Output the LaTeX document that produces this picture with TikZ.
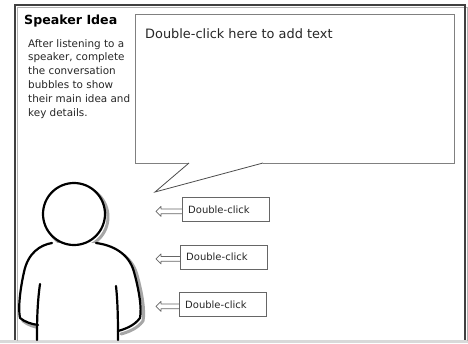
\documentclass[tikz,border=0pt]{standalone}
\usepackage{fontspec}
\setmainfont{DejaVu Sans}
\begin{document}
\begin{tikzpicture}[x=1pt,y=-1pt,
  frameline/.style={draw=black!75,line width=1.8pt},
  bubbleline/.style={draw=black!50,line width=0.9pt},
  tailline/.style={draw=black!70,line width=0.8pt},
  smallbox/.style={draw=black!60,line width=0.8pt,fill=white,minimum width=87pt,minimum height=24pt,inner sep=0pt},
  personline/.style={draw=black,line width=2.2pt,line cap=round,line join=round},
  shadowline/.style={draw=black!35,line width=3pt,line cap=round,line join=round},
  bodytext/.style={font=\fontsize{10.4}{13.8}\selectfont,align=left,anchor=north west,inner sep=0pt,text=black!85},
  boxtext/.style={font=\fontsize{10}{11}\selectfont,anchor=west,inner sep=0pt,text=black!85}]
\useasboundingbox (0,0) rectangle (468,343);
% page band and outer frame
\fill[black!15] (0,339.5) rectangle (468,343);
\draw[black!30,line width=1pt] (17,341) -- (17,7) -- (467,7) -- (467,341);
\draw[frameline] (15,340) -- (15,5) -- (465,5) -- (465,340);

% heading and instructions
\node[anchor=base west,inner sep=0pt,font=\bfseries\fontsize{12.6}{14}\selectfont] (title) at (24,24) {Speaker Idea};
\node[bodytext] (intro) at (28,39) {After listening to a\\speaker, complete\\the conversation\\bubbles to show\\their main idea and\\key details.};

% main speech bubble
\coordinate (tl) at (135,14);
\coordinate (tr) at (454,14);
\coordinate (br) at (454,163);
\coordinate (bl) at (135,163);
\coordinate (tailA) at (189,163);
\coordinate (tailB) at (263,163);
\coordinate (tip) at (155,192);
\fill[white] (tl) -- (tr) -- (br) -- (tailB) -- (tip) -- (tailA) -- (bl) -- cycle;
\draw[bubbleline] (tailA) -- (bl) -- (tl) -- (tr) -- (br) -- (tailB);
\draw[tailline,line join=miter] (tailA) -- (tip) -- (tailB);
\node[anchor=base west,inner sep=0pt,font=\fontsize{12.9}{14}\selectfont,text=black!85] (maintext) at (145,38) {Double-click here to add text};

% small arrow callouts
\foreach \n/\xl/\yt in {1/182/197,2/180/244.5,3/179/292}{
  \node[smallbox,anchor=north west] (box\n) at (\xl,\yt) {};
  \node[boxtext] (label\n) at ([xshift=6pt]box\n.west) {Double-click};
  \coordinate (tip\n) at ([xshift={156-\xl}, yshift=-2pt]box\n.west);
  \draw[black!60,line width=0.8pt,line join=round]
    ([yshift=2.4pt]box\n.west |- tip\n) -- ([xshift=5pt,yshift=2.4pt]tip\n) -- ([xshift=5pt,yshift=5pt]tip\n)
    -- (tip\n) -- ([xshift=5pt,yshift=-5pt]tip\n) -- ([xshift=5pt,yshift=-2.4pt]tip\n) -- ([yshift=-2.4pt]box\n.west |- tip\n);
}

% person with drop shadow
\begin{scope}[shift={(3,3)}]
  \draw[shadowline] (74,214) circle (31);
  \draw[shadowline] (52,243) .. controls (40,245) and (28,253) .. (24,272) .. controls (20,290) and (18,308) .. (20,318) .. controls (25,322) and (31,324) .. (38,325);
  \draw[shadowline] (96,243) .. controls (112,245) and (129,253) .. (134,272) .. controls (139,290) and (142,308) .. (140,318) .. controls (134,326) and (125,329) .. (118,331);
\end{scope}
\fill[white] (74,214) circle (31);
\fill[white] (52,243) .. controls (40,245) and (28,253) .. (24,272) .. controls (20,290) and (18,308) .. (20,318) .. controls (25,322) and (31,324) .. (38,325) -- (38,340) -- (118,340) -- (118,331) .. controls (125,329) and (134,326) .. (140,318) .. controls (142,308) and (139,290) .. (134,272) .. controls (129,253) and (112,245) .. (96,243) -- cycle;
\draw[personline] (52,243) .. controls (40,245) and (28,253) .. (24,272) .. controls (20,290) and (18,308) .. (20,318) .. controls (25,322) and (31,324) .. (38,325);
\draw[personline] (96,243) .. controls (112,245) and (129,253) .. (134,272) .. controls (139,290) and (142,308) .. (140,318) .. controls (134,326) and (125,329) .. (118,331);
\draw[personline] (40,284) .. controls (37,305) and (37,325) .. (37,340);
\draw[personline] (116,286) .. controls (118,305) and (118,325) .. (118,340);
\fill[white] (74,214) circle (30);
\draw[personline] (74,214) circle (31);
\end{tikzpicture}
\end{document}
